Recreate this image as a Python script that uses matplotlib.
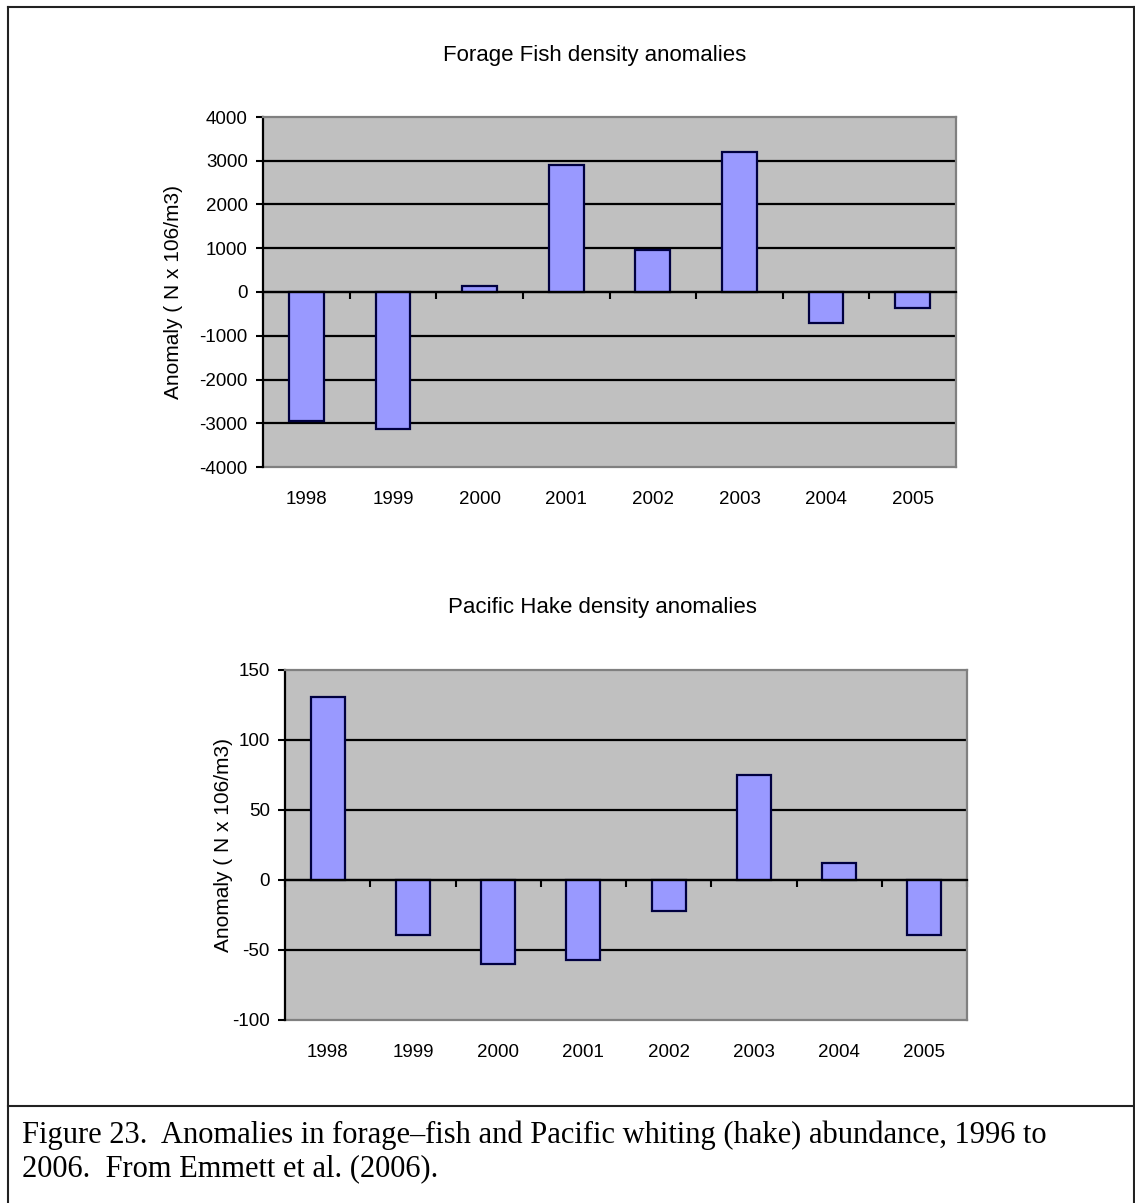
import matplotlib
matplotlib.use("Agg")
import matplotlib.pyplot as plt
from matplotlib.lines import Line2D

# Data
years = ['1998', '1999', '2000', '2001', '2002', '2003', '2004', '2005']
forage_anomaly = [-2950, -3130, 130, 2910, 970, 3210, -710, -370]
hake_anomaly = [131, -39, -60, -57, -22, 75, 12, -39]

forage_ticks = [-4000, -3000, -2000, -1000, 0, 1000, 2000, 3000, 4000]
hake_ticks = [-100, -50, 0, 50, 100, 150]

ylabel_text = 'Anomaly ( N x 106/m3)'
caption = ('Figure 23.  Anomalies in forage\u2013fish and Pacific whiting (hake) abundance, 1996 to\n'
           '2006.  From Emmett et al. (2006).')

W, H = 1135, 1203
plt.rcParams['font.family'] = ['Liberation Sans', 'DejaVu Sans']

fig = plt.figure(figsize=(W / 100, H / 100), dpi=100)


def px_rect(left, top, right, bottom):
    return [left / W, 1 - bottom / H, (right - left) / W, (bottom - top) / H]


def draw_panel(rect, values, ticks, title, title_xy, label_x):
    ax = fig.add_axes(rect)
    xs = list(range(len(years)))
    ax.set_facecolor('#c0c0c0')
    ax.set_xlim(-0.5, len(years) - 0.5)
    ax.set_ylim(ticks[0], ticks[-1])
    ax.set_yticks(ticks)
    ax.set_yticklabels([str(t) for t in ticks])

    # horizontal gridlines, not at the plot edges
    for t in ticks[1:-1]:
        ax.axhline(t, color='black', lw=1.6, zorder=1)

    ax.bar(xs, values, width=0.4, color='#9999ff', edgecolor='#000040',
           linewidth=1.6, zorder=2)

    # category axis sits on the zero line with divider ticks
    ax.spines['bottom'].set_position(('data', 0))
    ax.spines['bottom'].set_color('black')
    ax.spines['bottom'].set_linewidth(1.6)
    ax.set_xticks([i - 0.5 for i in range(len(years) + 1)])
    ax.tick_params(axis='x', direction='out', length=5, width=1.5,
                   labelbottom=False, color='black')

    ax.spines['left'].set_color('black')
    ax.spines['left'].set_linewidth(1.6)
    for s in ['top', 'right']:
        ax.spines[s].set_color('#808080')
        ax.spines[s].set_linewidth(1.6)
    ax.tick_params(axis='y', direction='out', length=5, width=1.5,
                   labelsize=13.5, pad=6, colors='black')

    # year labels under the plot area
    sec = ax.secondary_xaxis('bottom')
    sec.set_xticks(xs)
    sec.set_xticklabels(years)
    sec.tick_params(length=0, pad=17, labelsize=13.5)
    sec.spines['bottom'].set_color('#808080')
    sec.spines['bottom'].set_linewidth(1.6)

    ax.set_ylabel(ylabel_text, fontsize=15)
    ax.yaxis.set_label_coords(label_x, 0.5)

    fig.text(title_xy[0] / W, 1 - title_xy[1] / H, title, ha='center',
             va='center', fontsize=16)
    return ax


draw_panel(px_rect(263, 117, 956, 467), forage_anomaly, forage_ticks,
           'Forage Fish density anomalies', (595, 55), -0.115)
draw_panel(px_rect(285, 670, 967, 1020), hake_anomaly, hake_ticks,
           'Pacific Hake density anomalies', (602, 607), -0.076)

# outer frame and caption separator
frame = [((8, 8), (7, H)), ((8, W - 1), (7, 7)), ((W - 1, W - 1), (7, H)),
         ((8, W - 1), (1106, 1106))]
for xx, yy in frame:
    fig.add_artist(Line2D([x / W for x in xx], [1 - y / H for y in yy],
                          transform=fig.transFigure, color='#222222', lw=1.5))

fig.text(22 / W, 1 - 1121 / H, caption, ha='left', va='top',
         family='Liberation Serif', fontsize=22, linespacing=1.18)

fig.savefig('out.png', dpi=100)
